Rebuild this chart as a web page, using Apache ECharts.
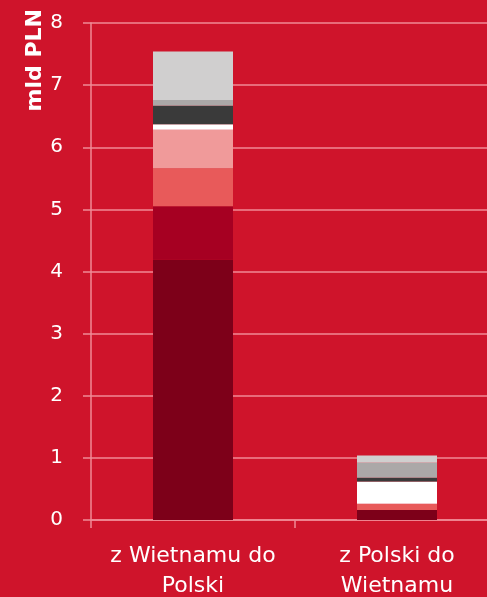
<!DOCTYPE html>
<html><head><meta charset="utf-8">
<script src="https://cdn.jsdelivr.net/npm/echarts@6/dist/echarts.min.js"></script>
<style>html,body{margin:0;padding:0;background:#CF142B;overflow:hidden;}#c{width:487px;height:597px;}</style>
</head><body><div id="c"></div>
<script>
const categories = ['z Wietnamu do\nPolski', 'z Polski do\nWietnamu'];
const seriesNames = ['s1','s2','s3','s4','s5','s6','s7','s8'];
const s1 = [4.19, 0.16];
const s2 = [0.86, 0.0];
const s3 = [0.61, 0.10];
const s4 = [0.62, 0.0];
const s5 = [0.09, 0.36];
const s6 = [0.30, 0.06];
const s7 = [0.09, 0.24];
const s8 = [0.78, 0.12];
const yTicks = [0,1,2,3,4,5,6,7,8];
const colors = ['#7D0019','#A60022','#E85A5A','#F09A9A','#FFFFFF','#3A3A3A','#ABA8A8','#D0CFCF'];
const data = [s1,s2,s3,s4,s5,s6,s7,s8];
const chart = echarts.init(document.getElementById('c'), null, {width:487, height:597});
const lineC = '#F08A96';
const ff = '"DejaVu Sans", sans-serif';
chart.setOption({
  backgroundColor:'#CF142B',
  animation:false,
  grid:{left:91,top:23,width:408,height:497,containLabel:false,outerBoundsMode:'none'},
  graphic:[{type:'text',left:24,top:9,rotation:Math.PI/2,
    style:{text:'mld PLN',fill:'#fff',font:'bold 22px "DejaVu Sans", sans-serif'}}],
  xAxis:{type:'category',data:categories,
    axisLine:{lineStyle:{color:lineC,width:1.5}},
    axisTick:{show:true,interval:0,length:8,lineStyle:{color:lineC,width:1.5}},
    axisLabel:{color:'#fff',fontSize:22,lineHeight:30,margin:21,interval:0,fontFamily:ff,hideOverlap:false}},
  yAxis:{type:'value',min:0,max:8,interval:1,
    axisLine:{show:true,lineStyle:{color:lineC,width:1.5}},
    axisTick:{show:true,length:8,lineStyle:{color:lineC,width:1.5}},
    splitLine:{lineStyle:{color:lineC,width:1.5}},
    axisLabel:{color:'#fff',fontSize:20,margin:28,fontFamily:ff,
      formatter:v=>yTicks.includes(v)?String(v):''}},
  series:data.map((d,i)=>({name:seriesNames[i],type:'bar',stack:'a',data:d,barWidth:80,
    itemStyle:{color:colors[i]}}))
});
</script></body></html>
